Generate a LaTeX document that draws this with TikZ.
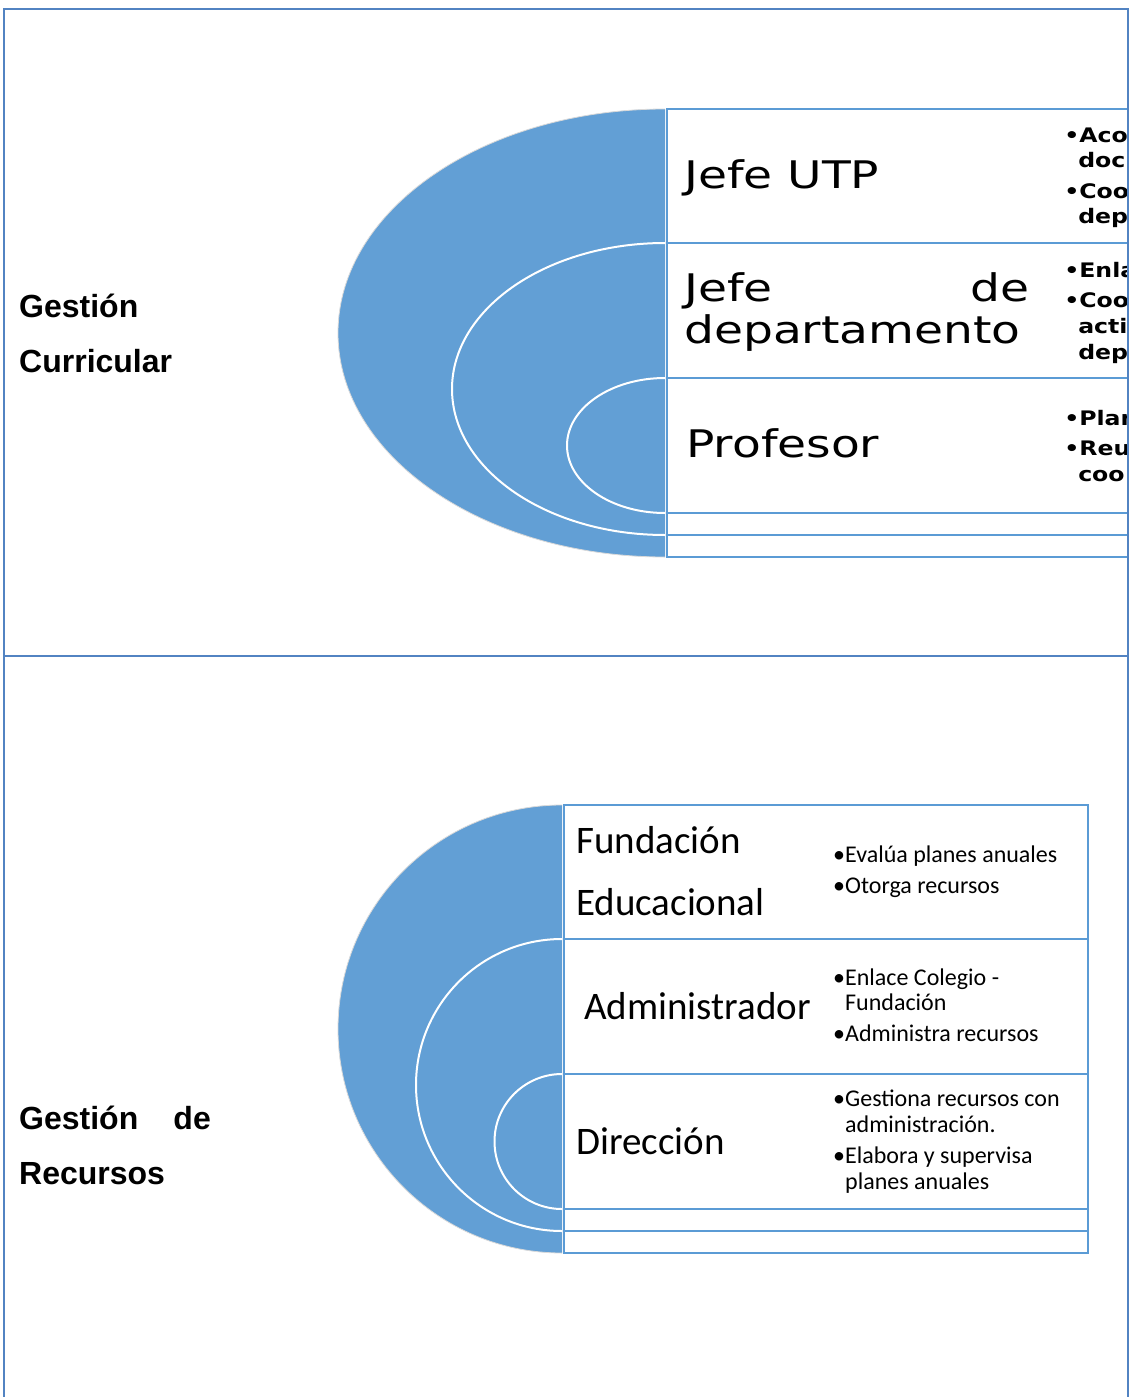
\documentclass[tikz,border=0pt]{standalone}
\usepackage{fontspec}
\setmainfont{Liberation Sans}
\newfontfamily\verd{DejaVu Sans}
\newfontfamily\cali{Carlito}
\definecolor{frameblue}{HTML}{5283C2}
\definecolor{fillblue}{HTML}{629FD5}
\definecolor{cellblue}{HTML}{5B9BD5}
\begin{document}
\begin{tikzpicture}[x=1pt,y=-1pt,
 frame/.style={draw=frameblue,line width=2pt},
 cell/.style={draw=cellblue,line width=2pt,fill=white},
 ring/.style={draw=white,line width=2pt},
 lbl/.style={anchor=base west,inner sep=0,font=\fontsize{32}{38}\selectfont\bfseries},
 role/.style={anchor=base west,inner sep=0,font=\verd\fontsize{38}{46}\selectfont,xscale=1.24},
 tbul/.style={anchor=base west,inner sep=0,font=\verd\bfseries\fontsize{20}{24}\selectfont,xscale=1.18},
 brole/.style={anchor=base west,inner sep=0,font=\cali\fontsize{39}{47}\selectfont},
 bbul/.style={anchor=base west,inner sep=0,font=\cali\fontsize{24}{28}\selectfont},
]
\useasboundingbox[fill=white] (0,0) rectangle (1133,1397);

% ---------- top: Gestion Curricular ----------
\fill[fillblue] (665,109) arc[start angle=-90,end angle=-270,x radius=327,y radius=224] -- cycle;
\draw[black!15,line width=0.8pt] (665,109) arc[start angle=-90,end angle=-270,x radius=327,y radius=224];
\draw[ring] (665,243) arc[start angle=-90,end angle=-270,x radius=213,y radius=146];
\draw[ring] (665,378) arc[start angle=-90,end angle=-270,x radius=98,y radius=67.5];

\begin{scope}
\clip (0,0) rectangle (1128,1397);
\draw[cell] (667,109) rectangle (1160,243);
\draw[cell] (667,243) rectangle (1160,378);
\draw[cell] (667,378) rectangle (1160,513);
\draw[cell] (667,513) rectangle (1160,535);
\draw[cell] (667,535) rectangle (1160,557);

\node[role] (jutp) at (684,188) {Jefe UTP};
\node[role] (jd1) at (684,301) {Jefe};
\node[role,anchor=base east] (jd2) at (1030,301) {de};
\node[role] (jd3) at (684,343) {departamento};
\node[role] (prof) at (686,457) {Profesor};

\node[tbul] (t1a) at (1064,142) {•Aco};
\node[tbul] (t1b) at (1078,167) {doc};
\node[tbul] (t1c) at (1064,198) {•Coo};
\node[tbul] (t1d) at (1078,223) {dep};
\node[tbul] (t2a) at (1064,277) {•Enla};
\node[tbul] (t2b) at (1064,307) {•Coo};
\node[tbul] (t2c) at (1078,333) {acti};
\node[tbul] (t2d) at (1078,359) {dep};
\node[tbul] (t3a) at (1064,425) {•Plan};
\node[tbul] (t3b) at (1064,455) {•Reu};
\node[tbul] (t3c) at (1078,481) {coo};
\end{scope}

\node[lbl] (gc1) at (19,317) {Gestión};
\node[lbl] (gc2) at (19,372) {Curricular};

% ---------- bottom: Gestion de Recursos ----------
\fill[fillblue] (562,805) arc[start angle=-90,end angle=-270,radius=224] -- cycle;
\draw[black!15,line width=0.8pt] (562,805) arc[start angle=-90,end angle=-270,radius=224];
\draw[ring] (562,939) arc[start angle=-90,end angle=-270,radius=146];
\draw[ring] (562,1074) arc[start angle=-90,end angle=-270,radius=67.5];

\draw[cell] (564,805) rectangle (1088,939);
\draw[cell] (564,939) rectangle (1088,1074);
\draw[cell] (564,1074) rectangle (1088,1209);
\draw[cell] (564,1209) rectangle (1088,1231);
\draw[cell] (564,1231) rectangle (1088,1253);

\node[brole] (fund1) at (576,853) {Fundación};
\node[brole] (fund2) at (576,915) {Educacional};
\node[brole] (adm) at (584,1019) {Administrador};
\node[brole] (dir) at (576,1154) {Dirección};

\node[bbul] (b1a) at (833,862) {•Evalúa planes anuales};
\node[bbul] (b1b) at (833,893) {•Otorga recursos};
\node[bbul] (b2a) at (833,985) {•Enlace Colegio -};
\node[bbul] (b2b) at (845,1010) {Fundación};
\node[bbul] (b2c) at (833,1041) {•Administra recursos};
\node[bbul] (b3a) at (833,1106) {•Gestiona recursos con};
\node[bbul] (b3b) at (845,1132) {administración.};
\node[bbul] (b3c) at (833,1163) {•Elabora y supervisa};
\node[bbul] (b3d) at (845,1189) {planes anuales};

\node[lbl] (gr1) at (19,1129) {Gestión};
\node[lbl,anchor=base east] (gr2) at (211,1129) {de};
\node[lbl] (gr3) at (19,1184) {Recursos};

% ---------- frame ----------
\draw[frame] (4,1397) -- (4,9) -- (1128,9) -- (1128,1397);
\draw[frame] (4,656) -- (1128,656);
\end{tikzpicture}
\end{document}
